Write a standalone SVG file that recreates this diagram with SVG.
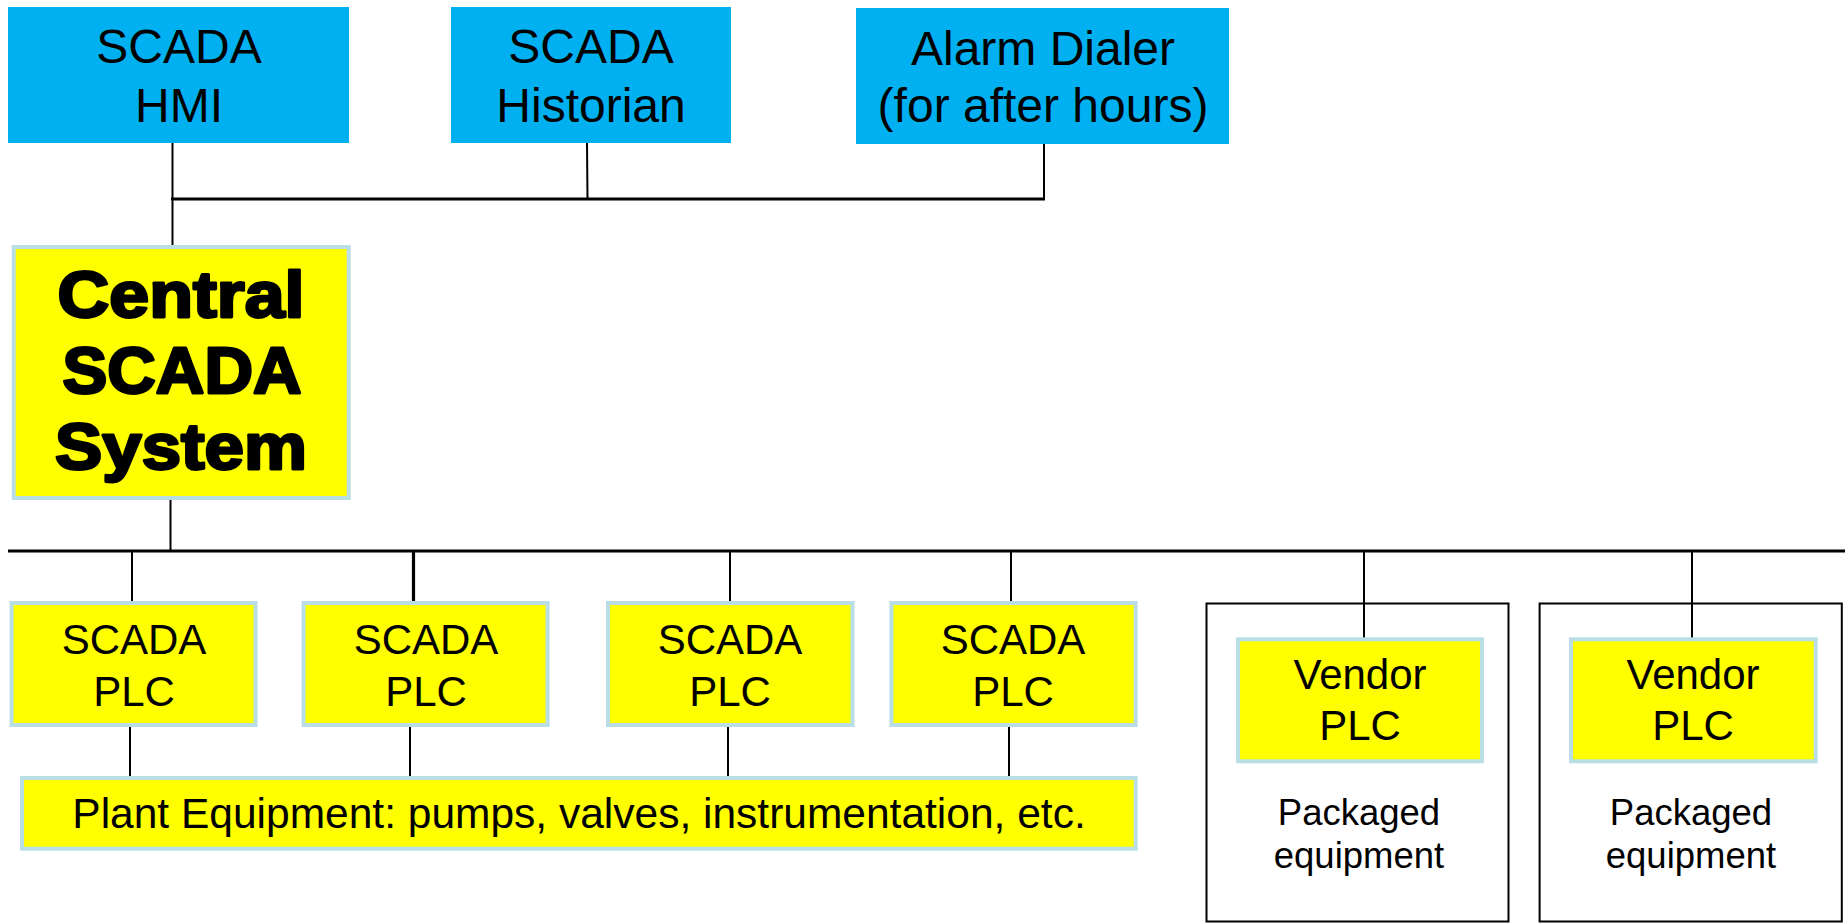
<svg xmlns="http://www.w3.org/2000/svg" width="1847" height="924" viewBox="0 0 1847 924">
  <style>
    .bg { fill: #ffffff; }
    .cyan { fill: #00b0f0; }
    .yel { fill: #ffff00; stroke: #b9dee6; stroke-width: 4; }
    .pkg { fill: #ffffff; stroke: #000000; stroke-width: 2; }
    .t { font-family: "Liberation Sans", Arial, sans-serif; fill: #000000; text-anchor: middle; }
    .t48 { font-size: 48px; }
    .t42 { font-size: 42px; }
    .t36 { font-size: 36.5px; }
    .big { font-family: "Liberation Sans", Arial, sans-serif; font-weight: bold; font-size: 64px; fill: #000000; stroke: #000000; stroke-width: 2.8; stroke-linejoin: round; text-anchor: middle; }
    .ln { stroke: #000000; stroke-width: 2; fill: none; }
    .bus { stroke: #000000; stroke-width: 3.2; fill: none; }
  </style>

  <rect class="bg" x="0" y="0" width="1847" height="924"/>

  <!-- connectors -->
  <g id="connectors">
    <line class="ln" x1="172.5" y1="143" x2="172.5" y2="247"/>
    <line class="bus" x1="171" y1="199" x2="1045" y2="199"/>
    <line class="ln" x1="587" y1="143" x2="587.5" y2="199" stroke-width="1.5"/>
    <line class="ln" x1="1044" y1="144" x2="1044" y2="199"/>
    <line class="ln" x1="170.5" y1="500" x2="170.5" y2="551"/>
    <line class="bus" x1="8" y1="551" x2="1845" y2="551"/>
    <line class="ln" x1="132" y1="551" x2="132" y2="602"/>
    <line class="bus" x1="413.5" y1="551" x2="413.5" y2="602"/>
    <line class="ln" x1="730" y1="551" x2="730" y2="602"/>
    <line class="ln" x1="1011" y1="551" x2="1011" y2="602"/>
    <line class="ln" x1="130" y1="727" x2="130" y2="777"/>
    <line class="ln" x1="410" y1="727" x2="410" y2="777"/>
    <line class="ln" x1="728" y1="727" x2="728" y2="777"/>
    <line class="ln" x1="1009" y1="727" x2="1009" y2="777"/>
  </g>

  <!-- top row -->
  <g id="scada-hmi">
    <rect class="cyan" x="8" y="7" width="341" height="136"/>
    <text class="t t48" x="179" y="63">SCADA</text>
    <text class="t t48" x="179" y="122">HMI</text>
  </g>
  <g id="scada-historian">
    <rect class="cyan" x="451" y="7" width="280" height="136"/>
    <text class="t t48" x="591" y="63">SCADA</text>
    <text class="t t48" x="591" y="122">Historian</text>
  </g>
  <g id="alarm-dialer">
    <rect class="cyan" x="856" y="8" width="373" height="136"/>
    <text class="t t48" x="1043" y="65">Alarm Dialer</text>
    <text class="t t48" x="1043" y="122">(for after hours)</text>
  </g>

  <!-- central system -->
  <g id="central-scada">
    <rect class="yel" x="13.7" y="247" width="335" height="251"/>
    <text class="big" x="181" y="317" textLength="247" lengthAdjust="spacingAndGlyphs">Central</text>
    <text class="big" x="182" y="393" textLength="239" lengthAdjust="spacingAndGlyphs">SCADA</text>
    <text class="big" x="181" y="469" textLength="252" lengthAdjust="spacingAndGlyphs">System</text>
  </g>

  <!-- field PLCs -->
  <g id="plc-1">
    <rect class="yel" x="11.6" y="603" width="244" height="122"/>
    <text class="t t42" x="134" y="654">SCADA</text>
    <text class="t t42" x="134" y="706">PLC</text>
  </g>
  <g id="plc-2">
    <rect class="yel" x="303.6" y="603" width="244" height="122"/>
    <text class="t t42" x="426" y="654">SCADA</text>
    <text class="t t42" x="426" y="706">PLC</text>
  </g>
  <g id="plc-3">
    <rect class="yel" x="608" y="603" width="244.5" height="122"/>
    <text class="t t42" x="730" y="654">SCADA</text>
    <text class="t t42" x="730" y="706">PLC</text>
  </g>
  <g id="plc-4">
    <rect class="yel" x="891.4" y="603" width="244.3" height="122"/>
    <text class="t t42" x="1013" y="654">SCADA</text>
    <text class="t t42" x="1013" y="706">PLC</text>
  </g>

  <g id="plant-equipment">
    <rect class="yel" x="22" y="778" width="1113.7" height="70.7"/>
    <text class="t" x="579" y="828" font-size="42.5">Plant Equipment: pumps, valves, instrumentation, etc.</text>
  </g>

  <!-- packaged equipment with vendor PLCs -->
  <g id="packaged-1">
    <rect class="pkg" x="1206.5" y="603.5" width="302" height="318"/>
    <line class="ln" x1="1364" y1="551" x2="1364" y2="638"/>
    <rect class="yel" x="1238" y="639.3" width="244" height="122"/>
    <text class="t t42" x="1360" y="689">Vendor</text>
    <text class="t t42" x="1360" y="740">PLC</text>
    <text class="t t36" x="1359" y="825">Packaged</text>
    <text class="t t36" x="1359" y="868">equipment</text>
  </g>
  <g id="packaged-2">
    <rect class="pkg" x="1539.6" y="603.5" width="302.2" height="318"/>
    <line class="ln" x1="1692" y1="551" x2="1692" y2="638"/>
    <rect class="yel" x="1571" y="639.3" width="244.7" height="122"/>
    <text class="t t42" x="1693" y="689">Vendor</text>
    <text class="t t42" x="1693" y="740">PLC</text>
    <text class="t t36" x="1691" y="825">Packaged</text>
    <text class="t t36" x="1691" y="868">equipment</text>
  </g>
</svg>
